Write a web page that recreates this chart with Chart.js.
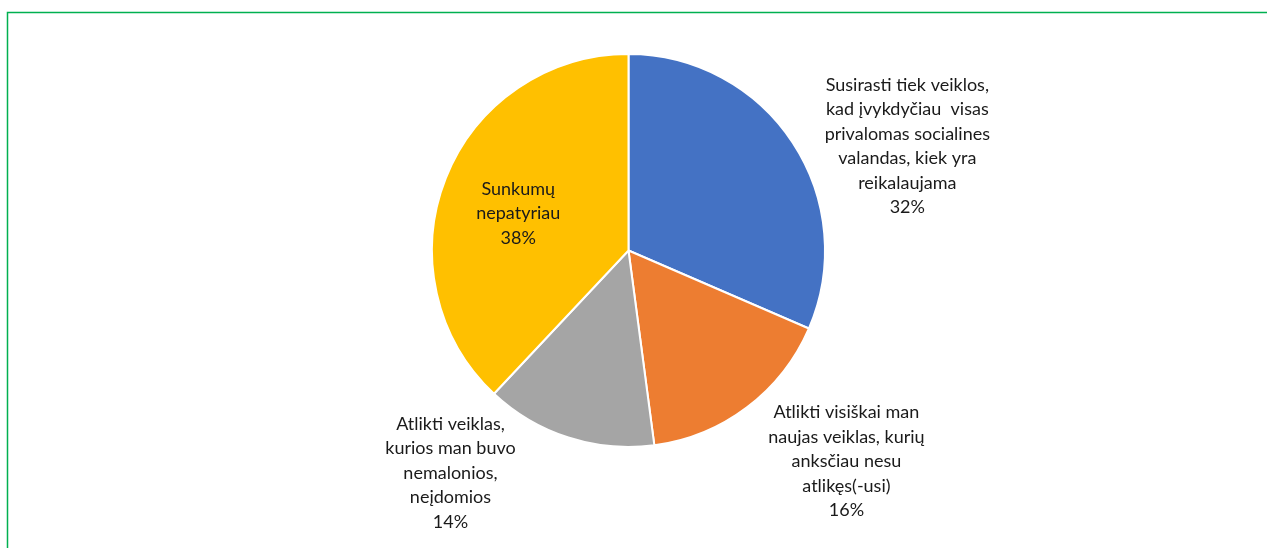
<!DOCTYPE html>
<html lang="lt">
  <head>
    <title>pie</title>
    <meta charset="utf-8" />
    <script src="https://cdn.jsdelivr.net/npm/chart.js@4.4.9/dist/chart.umd.min.js"></script>
  </head>
  <body style="padding: 0; margin: 0; width: 1267px; height: 548px; background: #fff">
    <canvas id="myChart" width="1267" height="548" style="width: 1267px; height: 548px"></canvas>
    <script>
      const categories = [
        ["Susirasti tiek veiklos,", "kad įvykdyčiau  visas", "privalomas socialines", "valandas, kiek yra", "reikalaujama"],
        ["Atlikti visiškai man", "naujas veiklas, kurių", "anksčiau nesu", "atlikęs(-usi)"],
        ["Atlikti veiklas,", "kurios man buvo", "nemalonios,", "neįdomios"],
        ["Sunkumų", "nepatyriau"],
      ];
      // shares; labels show them rounded
      const shares = [31.5, 16.4, 14.1, 38.0];
      const colors = ["#4472C4", "#ED7D31", "#A5A5A5", "#FFC000"];

      // label block centre, in units of the pie radius from the pie centre
      const labelSpots = [
        [1.419, -0.53],
        [1.109, 1.074],
        [-0.906, 1.132],
        [-0.561, -0.188],
      ];

      const frame = {
        id: "frame",
        beforeDraw(chart) {
          const ctx = chart.ctx;
          ctx.save();
          ctx.strokeStyle = "#00B050";
          ctx.lineWidth = 1.5;
          ctx.beginPath();
          ctx.moveTo(7.5, 548);
          ctx.lineTo(7.5, 12.5);
          ctx.lineTo(1267, 12.5);
          ctx.stroke();
          ctx.restore();
        },
      };

      const pieLabels = {
        id: "pie_labels",
        afterDraw(chart) {
          const ctx = chart.ctx;
          const meta = chart.getDatasetMeta(0);
          const lineH = 24.5;
          ctx.save();
          ctx.font = "18px Lato, 'Open Sans', sans-serif";
          ctx.fillStyle = "#1a1a1a";
          ctx.textAlign = "center";
          ctx.textBaseline = "middle";
          meta.data.forEach((arc, i) => {
            const r = arc.outerRadius;
            const cx = arc.x + labelSpots[i][0] * r;
            const cy = arc.y + labelSpots[i][1] * r;
            const lines = categories[i].concat([Math.round(shares[i]) + "%"]);
            const top = cy - ((lines.length - 1) * lineH) / 2;
            lines.forEach((t, k) => ctx.fillText(t, cx, top + k * lineH));
          });
          ctx.restore();
        },
      };

      new Chart(document.getElementById("myChart"), {
        type: "pie",
        data: {
          labels: categories.map((c) => c.join(" ")),
          datasets: [
            {
              data: shares,
              backgroundColor: colors,
              borderColor: "#fff",
              borderWidth: 2,
            },
          ],
        },
        plugins: [frame, pieLabels],
        options: {
          responsive: false,
          animation: false,
          layout: { padding: { top: 53, bottom: 100, left: 0, right: 10 } },
          plugins: {
            legend: { display: false },
            tooltip: { enabled: false },
          },
        },
      });
    </script>
  </body>
</html>
